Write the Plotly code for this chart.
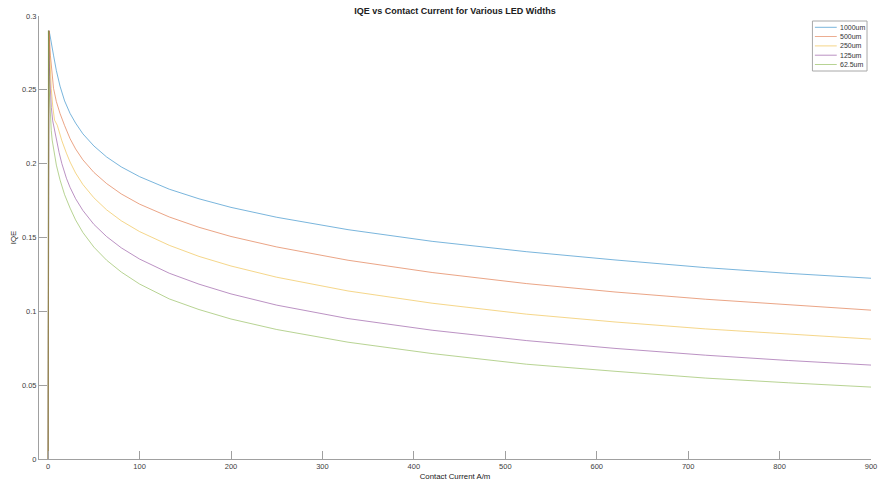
import plotly.graph_objects as go

# Contact current (A/m) sample points and IQE values
x_1000 = [0, 1, 2, 3, 4.5, 6, 9, 13, 18, 24, 30, 38, 50, 64, 80, 100, 132.5, 165, 200, 250, 328,
          420, 523, 620, 719, 810, 900]
iqe_1000 = [0, 0.29, 0.287, 0.283, 0.278, 0.273, 0.263, 0.2525, 0.2425, 0.234, 0.2275, 0.2202,
            0.212, 0.2045, 0.1978, 0.1912, 0.1827, 0.1762, 0.1704, 0.1637, 0.1553, 0.1474, 0.1404,
            0.1348, 0.1296, 0.1257, 0.1224]

x_500 = [0, 1, 1.5, 2.5, 4, 5.9, 9, 13, 18, 24, 30, 38, 50, 64, 80, 100, 132.5, 165, 200, 250, 328,
         420, 523, 620, 719, 810, 900]
iqe_500 = [0, 0.29, 0.284, 0.273, 0.261, 0.251, 0.242, 0.234, 0.2258, 0.2169, 0.21, 0.2026, 0.1941,
           0.1865, 0.1795, 0.1726, 0.1639, 0.1569, 0.1507, 0.1436, 0.1346, 0.1263, 0.1188, 0.1131,
           0.1082, 0.1043, 0.1008]

x_250 = [0, 0.7, 1, 1.5, 2.3, 3.4, 5, 7, 10, 15, 20, 24, 30, 38, 50, 64, 80, 100, 132.5, 165, 200,
         250, 328, 420, 523, 620, 719, 810, 900]
iqe_250 = [0, 0.29, 0.286, 0.277, 0.264, 0.251, 0.239, 0.2295, 0.226, 0.2155, 0.2071, 0.2011, 0.1937,
           0.1859, 0.1769, 0.1687, 0.1613, 0.154, 0.1447, 0.1372, 0.1307, 0.1231, 0.1138, 0.1055,
           0.0981, 0.0928, 0.0881, 0.0844, 0.0812]

x_125 = [0, 0.5, 0.8, 1.2, 1.7, 2.3, 3.5, 5, 7, 8.8, 12, 15, 20, 24, 30, 38, 50, 64, 80, 100, 132.5,
         165, 200, 250, 328, 420, 523, 620, 719, 810, 900]
iqe_125 = [0, 0.29, 0.282, 0.27, 0.259, 0.25, 0.238, 0.229, 0.2225, 0.2165, 0.2075, 0.2, 0.1901,
           0.1839, 0.1763, 0.1683, 0.1589, 0.1506, 0.143, 0.1354, 0.1258, 0.1184, 0.1118, 0.1042,
           0.0951, 0.0872, 0.0802, 0.0749, 0.0703, 0.0667, 0.0636]

x_62 = [0, 0.3, 0.5, 0.8, 1.2, 1.8, 2.5, 3.4, 4.4, 6, 9, 13, 18, 24, 30, 38, 50, 64, 80, 100, 132.5,
        165, 200, 250, 328, 420, 523, 620, 719, 810, 900]
iqe_62 = [0, 0.29, 0.279, 0.264, 0.25, 0.239, 0.23, 0.2225, 0.216, 0.2088, 0.199, 0.189, 0.179,
          0.1699, 0.1619, 0.1534, 0.1435, 0.1346, 0.1266, 0.1185, 0.1084, 0.1012, 0.0948, 0.0877,
          0.0791, 0.0714, 0.0642, 0.0594, 0.0548, 0.0516, 0.0487]

labels = ["1000um", "500um", "250um", "125um", "62.5um"]
colors = ["#0072BD", "#D95319", "#EDB120", "#7E2F8E", "#77AC30"]
xs = [x_1000, x_500, x_250, x_125, x_62]
ys = [iqe_1000, iqe_500, iqe_250, iqe_125, iqe_62]

y_ticks = [0, 0.05, 0.1, 0.15, 0.2, 0.25, 0.3]
y_ticktext = ["0", "0.05", "0.1", "0.15", "0.2", "0.25", "0.3"]
x_ticks = [0, 100, 200, 300, 400, 500, 600, 700, 800, 900]

W, H = 881, 484
ML, MR, MT, MB = 39, 4, 16, 25
PW, PH = W - ML - MR, H - MT - MB


def px_x(px):
    return (px - ML) / PW


def px_y(py):
    return (H - MB - py) / PH


fig = go.Figure()
for x, y, name, c in zip(xs, ys, labels, colors):
    fig.add_trace(go.Scatter(x=x, y=y, mode="lines", name=name, showlegend=False,
                             line=dict(color=c, width=0.7), opacity=0.75))

axis_col = "#a0a0a0"
text_col = "#404040"

# Manual legend (MATLAB-style compact box)
shapes = [dict(type="rect", xref="paper", yref="paper",
               x0=px_x(818), x1=px_x(873), y0=px_y(71), y1=px_y(21),
               line=dict(color="#a8a8a8", width=1), fillcolor="white", layer="above")]
annotations = []
row_y = [27.3, 36.6, 45.9, 55.2, 64.5]
for name, c, ry in zip(labels, colors, row_y):
    shapes.append(dict(type="line", xref="paper", yref="paper",
                       x0=px_x(820.5), x1=px_x(842.5), y0=px_y(ry), y1=px_y(ry),
                       line=dict(color=c, width=0.7), opacity=0.75, layer="above"))
    annotations.append(dict(text=name, xref="paper", yref="paper", x=px_x(843.5), y=px_y(ry),
                            xanchor="left", yanchor="middle", showarrow=False,
                            font=dict(size=7, color="#333")))

fig.update_layout(
    width=W, height=H,
    margin=dict(l=ML, r=MR, t=MT, b=MB),
    paper_bgcolor="white", plot_bgcolor="white",
    font=dict(family="Liberation Sans, Arial, sans-serif", size=8, color=text_col),
    title=dict(text="<b>IQE vs Contact Current for Various LED Widths</b>",
               x=0.5, xref="paper", y=0.985, yref="container", yanchor="top",
               font=dict(size=9, color="#202020")),
    showlegend=False,
    shapes=shapes,
    annotations=annotations,
)
fig.update_xaxes(range=[-10, 900], tickvals=x_ticks, ticks="inside", ticklen=8,
                 tickcolor=axis_col, showline=True, linecolor=axis_col, linewidth=1,
                 showgrid=False, zeroline=False, tickfont=dict(size=7.5, color=text_col),
                 ticklabeloverflow="allow",
                 title=dict(text="Contact Current A/m", standoff=3, font=dict(size=7.8, color="#202020")))
fig.update_yaxes(range=[0, 0.3], tickvals=y_ticks, ticktext=y_ticktext, ticks="inside", ticklen=8,
                 tickcolor=axis_col, showline=True, linecolor=axis_col, linewidth=1,
                 showgrid=False, zeroline=False, tickfont=dict(size=7.5, color=text_col),
                 title=dict(text="IQE", standoff=4, font=dict(size=7.8, color="#202020")))

fig.write_html("out.html")
